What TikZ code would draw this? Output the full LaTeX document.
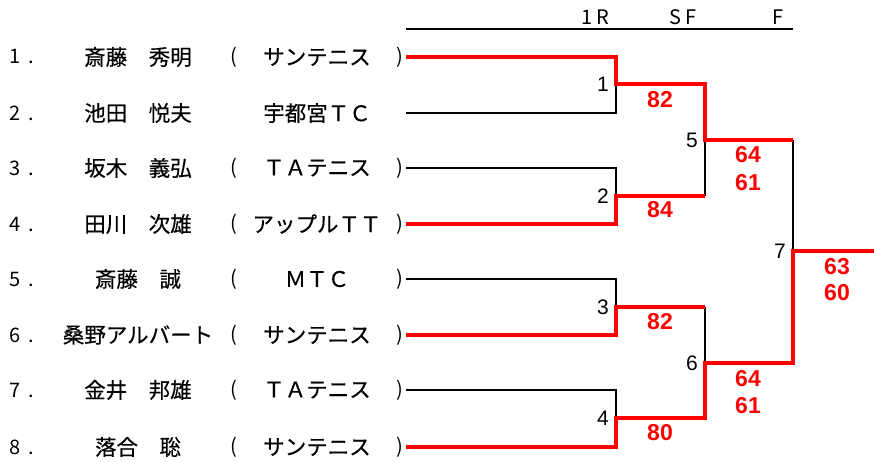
\documentclass[tikz,border=0pt]{standalone}
\usepackage{fontspec}
\setmainfont{Liberation Sans}
\newfontfamily\jp[FakeBold=0.4]{Noto Sans CJK JP}
\newfontfamily\jpl{Noto Sans CJK JP}
\definecolor{winred}{RGB}{255,0,0}
\begin{document}
\begin{tikzpicture}[x=1pt,y=-1pt,
  txt/.style={inner sep=0pt,font=\jp\fontsize{21.5}{23}\selectfont},
  htxt/.style={inner sep=0pt,font=\jpl\fontsize{20}{22}\selectfont},
  mnum/.style={inner sep=0pt,anchor=east,xshift=-7pt,font=\fontsize{21}{23}\selectfont},
  score/.style={inner sep=0pt,text=winred,font=\bfseries\fontsize{23}{25}\selectfont},
  lose/.style={line width=1.3pt,black},
  win/.style={line width=3.3pt,winred,line join=miter}]
\useasboundingbox (0,0) rectangle (874,462);
% header
\coordinate (hl) at (406,29);
\coordinate (hr) at (793,29);
\draw[line width=1.3pt] (hl) -- (hr);
\node[htxt] (h1) at (595,17) {1\hspace{4pt}R};
\node[htxt] (h2) at (683,17) {S\hspace{4pt}F};
\node[htxt] (h3) at (778,17) {F};
% players
\foreach \i/\y/\nm/\cl/\hp in {
  1/57/斎藤　秀明/サンテニス/1,
  2/113/池田　悦夫/宇都宮ＴＣ/0,
  3/168/坂木　義弘/ＴＡテニス/1,
  4/224/田川　次雄/アップルＴＴ/1,
  5/279/斎藤　誠/ＭＴＣ/1,
  6/335/桑野アルバート/サンテニス/1,
  7/390/金井　邦雄/ＴＡテニス/1,
  8/447/落合　聡/サンテニス/1}{
  \node[htxt,anchor=west] (n\i) at (9,\y) {\i\hspace{8pt}.};
  \node[txt] (name\i) at (138,\y) {\nm};
  \node[txt] (club\i) at (317,\y) {\cl};
  \ifnum\hp=1
    \node[htxt] (lp\i) at (234,\y) {(};
    \node[htxt] (rp\i) at (400,\y) {)};
  \fi
  \coordinate (p\i) at (406,\y);
}
% junctions
\coordinate (m1) at (616,84);
\coordinate (m2) at (616,196);
\coordinate (m3) at (616,307);
\coordinate (m4) at (616,418);
\coordinate (m5) at (705,140);
\coordinate (m6) at (705,363);
\coordinate (m7) at (793,251);
\coordinate (end) at (874,251);
% losing lines
\draw[lose] (p2) -| (m1);
\draw[lose] (p3) -| (m2);
\draw[lose] (p5) -| (m3);
\draw[lose] (p7) -| (m4);
\draw[lose] (m2 -| m5) -- (m5);
\draw[lose] (m3 -| m6) -- (m6);
\draw[lose] (m5 -| m7) -- (m7);
% winning lines
\draw[win] (p1) -| (m1) -| (m5) -- (m5 -| m7);
\draw[win] (p4) -| (m2) -- (m2 -| m5);
\draw[win] (p6) -| (m3) -- (m3 -| m6);
\draw[win] (p8) -| (m4) -| (m6) -| (m7) -- (end);
% match numbers
\node[mnum] (g1) at (m1) {1};
\node[mnum] (g2) at (m2) {2};
\node[mnum] (g3) at (m3) {3};
\node[mnum] (g4) at (m4) {4};
\node[mnum] (g5) at (m5) {5};
\node[mnum] (g6) at (m6) {6};
\node[mnum] (g7) at (m7) {7};
% scores
\node[score] (s1) at (660,100) {82};
\node[score] (s2) at (660,210) {84};
\node[score] (s3) at (660,322) {82};
\node[score] (s4) at (660,433) {80};
\node[score] (s5a) at (748,155) {64};
\node[score] (s5b) at (748,183) {61};
\node[score] (s6a) at (748,379) {64};
\node[score] (s6b) at (748,406) {61};
\node[score] (s7a) at (837,267) {63};
\node[score] (s7b) at (837,293) {60};
\end{tikzpicture}
\end{document}
